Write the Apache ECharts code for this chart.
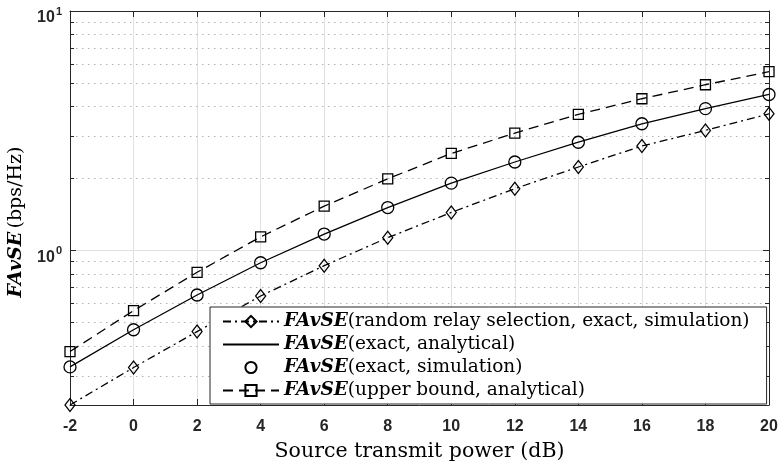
<!DOCTYPE html>
<html lang="en" style="height: 100%">

<head>
  <meta charset="utf-8">
</head>

<body style="height: 100%; margin: 0">
  <div id="container" style="width: 782px; height: 461px"></div>

  <script type="text/javascript" src="https://cdn.jsdelivr.net/npm/echarts@6/dist/echarts.min.js"></script>

  <script type="text/javascript">
    // source transmit power (dB)
    var powerDb = [-2, 0, 2, 4, 6, 8, 10, 12, 14, 16, 18, 20];
    // FAvSE values (bps/Hz)
    var randomSim = [0.226, 0.324, 0.458, 0.645, 0.863, 1.13, 1.44, 1.81, 2.23, 2.73, 3.17, 3.72];
    var exactVals = [0.326, 0.466, 0.651, 0.888, 1.17, 1.51, 1.91, 2.34, 2.83, 3.38, 3.91, 4.48];
    var upperBound = [0.378, 0.560, 0.810, 1.139, 1.53, 1.99, 2.54, 3.09, 3.70, 4.30, 4.92, 5.58];
    // log axis minor ticks
    var minorTicks = [0.3, 0.4, 0.5, 0.6, 0.7, 0.8, 0.9, 2, 3, 4, 5, 6, 7, 8, 9];
    var yMin = 0.226, yMax = 10;

    var names = [
      'FAvSE(random relay selection, exact, simulation)',
      'FAvSE(exact, analytical)',
      'FAvSE(exact, simulation)',
      'FAvSE(upper bound, analytical)'
    ];

    function pairs(ys) {
      return ys.map(function (v, i) { return [powerDb[i], v]; });
    }

    var dom = document.getElementById('container');
    var myChart = echarts.init(dom, null, { renderer: 'canvas' });

    var axisColor = '#262626';
    var serif = 'DejaVu Serif';
    var sans = 'Arial, "Liberation Sans", sans-serif';

    var option = {
      animation: false,
      backgroundColor: '#fff',
      grid: { left: 70, right: 13, top: 11, bottom: 56, containLabel: false, outerBoundsMode: 'none' },
      legend: {
        data: [
          { name: names[0] },
          { name: names[1], itemStyle: { color: 'rgba(0,0,0,0)', borderWidth: 0 } },
          { name: names[2] },
          { name: names[3] }
        ],
        orient: 'vertical',
        left: 210,
        top: 307,
        padding: [5, 17, 4, 12],
        itemWidth: 56,
        itemHeight: 14,
        itemGap: 4,
        backgroundColor: '#fff',
        borderColor: axisColor,
        borderWidth: 1,
        borderRadius: 0,
        formatter: function (n) {
          return '{f|FAvSE}{t|' + n.slice(5) + '}';
        },
        textStyle: {
          color: '#000',
          rich: {
            f: { fontFamily: serif, fontStyle: 'italic', fontWeight: 'bold', fontSize: 18.5, lineHeight: 20 },
            t: { fontFamily: serif, fontSize: 18.5, lineHeight: 20 }
          }
        }
      },
      xAxis: [{
        type: 'value',
        min: -2, max: 20, interval: 2,
        name: 'Source transmit power (dB)',
        nameLocation: 'middle',
        nameGap: 36,
        nameTextStyle: { fontFamily: serif, fontSize: 20.5, color: '#000' },
        axisLine: { onZero: false, lineStyle: { color: axisColor, width: 1 } },
        axisTick: { inside: true, length: 6, lineStyle: { color: axisColor } },
        axisLabel: { margin: 14, fontFamily: sans, fontWeight: 'bold', fontSize: 16, color: axisColor },
        splitLine: { show: true, lineStyle: { color: '#e1e1e1', width: 1 } }
      }, {
        type: 'value',
        position: 'top',
        min: -2, max: 20, interval: 2,
        axisLine: { onZero: false, lineStyle: { color: axisColor, width: 1 } },
        axisTick: { inside: true, length: 6, lineStyle: { color: axisColor } },
        axisLabel: { show: false },
        splitLine: { show: false }
      }],
      yAxis: [{
        type: 'log',
        logBase: 10,
        min: yMin, max: yMax,
        name: '{f|FAvSE} {t|(bps/Hz)}',
        nameLocation: 'middle',
        nameRotate: 90,
        nameGap: 44,
        nameTextStyle: {
          color: '#000',
          padding: [0, 28, 0, 0],
          rich: {
            f: { fontFamily: serif, fontStyle: 'italic', fontWeight: 'bold', fontSize: 19 },
            t: { fontFamily: serif, fontSize: 19 }
          }
        },
        axisLine: { show: true, onZero: false, lineStyle: { color: axisColor, width: 1 } },
        axisTick: { inside: true, length: 6, lineStyle: { color: axisColor } },
        axisLabel: {
          margin: 8,
          padding: [10, 0, 0, 0],
          showMinLabel: false,
          color: axisColor,
          formatter: function (v) {
            var e = Math.log10(v);
            if (Math.abs(e - Math.round(e)) > 1e-6) return '';
            return '{b|10}{s|' + Math.round(e) + '}';
          },
          rich: {
            b: { fontFamily: sans, fontWeight: 'bold', fontSize: 16, color: axisColor, verticalAlign: 'bottom' },
            s: { fontFamily: sans, fontWeight: 'bold', fontSize: 11, color: axisColor, verticalAlign: 'bottom', padding: [0, 0, 9, 1] }
          }
        },
        splitLine: { show: true, lineStyle: { color: '#e1e1e1', width: 1 } }
      }, {
        type: 'log',
        logBase: 10,
        min: yMin, max: yMax,
        position: 'right',
        axisLine: { show: true, onZero: false, lineStyle: { color: axisColor, width: 1 } },
        axisTick: { inside: true, length: 6, lineStyle: { color: axisColor } },
        axisLabel: { show: false },
        splitLine: { show: false }
      }],
      series: [
        {
          // dotted minor grid lines and minor ticks of the log axis
          type: 'custom',
          name: 'minor',
          silent: true,
          z: 1,
          data: minorTicks.map(function (v) { return [-2, v]; }),
          encode: { x: 0, y: 1 },
          renderItem: function (params, api) {
            var cs = params.coordSys;
            var y = Math.round(api.coord([-2, api.value(1)])[1]) + 0.5;
            return {
              type: 'group',
              children: [
                { type: 'line', shape: { x1: cs.x, y1: y, x2: cs.x + cs.width, y2: y },
                  style: { stroke: '#b4b4b4', lineWidth: 1, lineDash: [1.5, 4.5] } },
                { type: 'line', shape: { x1: cs.x, y1: y, x2: cs.x + 4, y2: y },
                  style: { stroke: axisColor, lineWidth: 1 } },
                { type: 'line', shape: { x1: cs.x + cs.width - 4, y1: y, x2: cs.x + cs.width, y2: y },
                  style: { stroke: axisColor, lineWidth: 1 } }
              ]
            };
          }
        },
        {
          name: names[0],
          type: 'line',
          data: pairs(randomSim),
          symbol: 'diamond',
          symbolSize: [10, 13],
          lineStyle: { color: '#000', width: 1.3, type: [8, 4, 2, 4] },
          itemStyle: { color: 'rgba(0,0,0,0)', borderColor: '#000', borderWidth: 1.3 },
          z: 3
        },
        {
          name: names[1],
          type: 'line',
          data: pairs(exactVals),
          symbol: 'none',
          lineStyle: { color: '#000', width: 1.3, type: 'solid' },
          itemStyle: { color: '#000' },
          z: 3
        },
        {
          name: names[2],
          type: 'line',
          data: pairs(exactVals),
          symbol: 'circle',
          symbolSize: 12,
          lineStyle: { width: 0, color: 'rgba(0,0,0,0)' },
          itemStyle: { color: 'rgba(0,0,0,0)', borderColor: '#000', borderWidth: 1.3 },
          z: 4
        },
        {
          name: names[3],
          type: 'line',
          data: pairs(upperBound),
          symbol: 'rect',
          symbolSize: 10,
          lineStyle: { color: '#000', width: 1.3, type: [10, 6] },
          itemStyle: { color: 'rgba(0,0,0,0)', borderColor: '#000', borderWidth: 1.3 },
          z: 3
        }
      ]
    };

    myChart.setOption(option);
    window.addEventListener('resize', myChart.resize);
  </script>
</body>

</html>
